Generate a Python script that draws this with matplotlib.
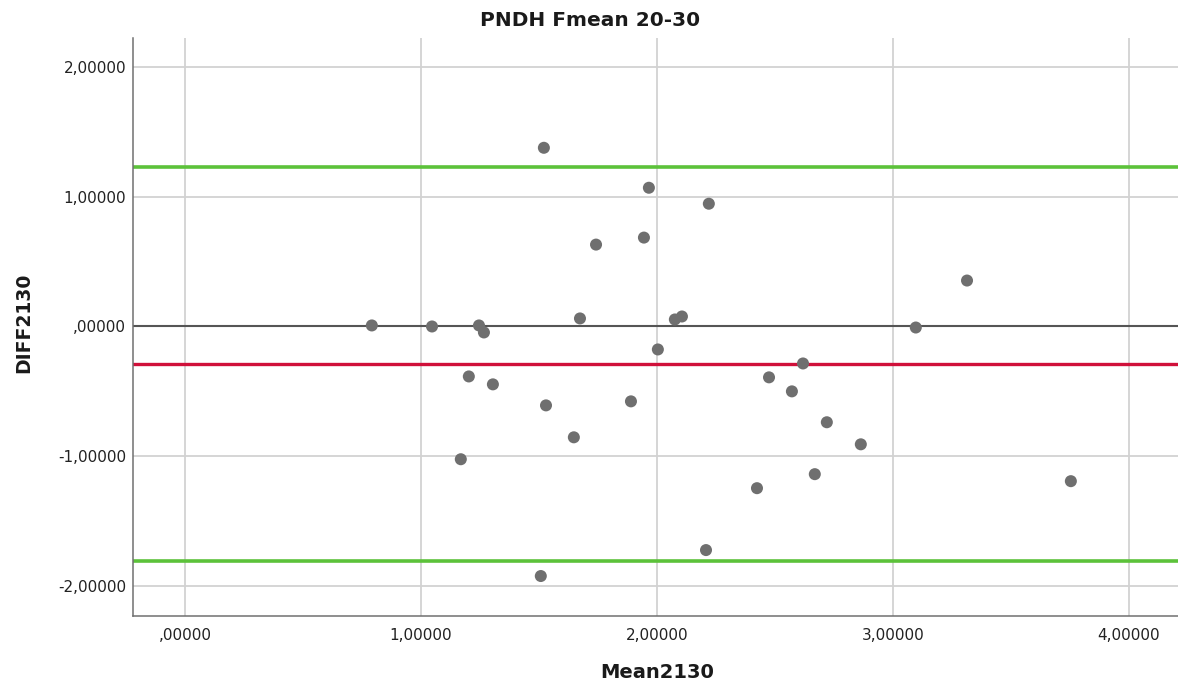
import matplotlib
matplotlib.use("Agg")
import matplotlib.pyplot as plt
from matplotlib.ticker import FuncFormatter

# Bland-Altman data: mean of the two measurements vs. their difference
mean2130 = [0.792, 1.047, 1.169, 1.203, 1.246, 1.267, 1.305, 1.521, 1.508, 1.530,
            1.648, 1.674, 1.742, 1.890, 1.945, 1.966, 2.004, 2.076, 2.106, 2.208,
            2.220, 2.424, 2.475, 2.572, 2.619, 2.669, 2.720, 2.864, 3.097, 3.314,
            3.754]
diff2130 = [0.008, 0.000, -1.023, -0.385, 0.008, -0.046, -0.446, 1.377, -1.923, -0.608,
            -0.854, 0.062, 0.631, -0.577, 0.685, 1.069, -0.177, 0.054, 0.077, -1.723,
            0.946, -1.246, -0.392, -0.500, -0.285, -1.138, -0.738, -0.908, -0.008, 0.354,
            -1.192]

bias = -0.289
upper_loa = 1.231
lower_loa = -1.808

x_ticks = [0, 1, 2, 3, 4]
y_ticks = [-2, -1, 0, 1, 2]


def comma_decimal(v, pos=None):
    s = "%.5f" % v
    if abs(v) < 1:
        s = s.replace("0.", ".", 1)
    return s.replace(".", ",")


fig = plt.figure(figsize=(11.78, 6.86), dpi=100)
ax = fig.add_axes([133 / 1178, 70 / 686, 1 - 133 / 1178, 578 / 686])

ax.set_xlim(-0.22, 4.208)
ax.set_ylim(-2.231, 2.223)
ax.set_xticks(x_ticks)
ax.set_yticks(y_ticks)
ax.xaxis.set_major_formatter(FuncFormatter(comma_decimal))
ax.yaxis.set_major_formatter(FuncFormatter(comma_decimal))

ax.grid(True, color="#d2d2d2", linewidth=1.3, zorder=0)
ax.set_axisbelow(True)

for s in ("top", "right"):
    ax.spines[s].set_visible(False)
for s in ("left", "bottom"):
    ax.spines[s].set_color("#707070")
    ax.spines[s].set_linewidth(1.1)

ax.tick_params(axis="both", length=0, labelsize=11, labelcolor="#222222")
ax.tick_params(axis="x", pad=9)
ax.tick_params(axis="y", pad=5)

ax.axhline(0, color="#555555", linewidth=1.5, zorder=2)
ax.axhline(bias, color="#d0103a", linewidth=2.4, zorder=2)
ax.axhline(upper_loa, color="#5cc23a", linewidth=2.6, zorder=2)
ax.axhline(lower_loa, color="#5cc23a", linewidth=2.6, zorder=2)

ax.scatter(mean2130, diff2130, s=75, color="#6f6f6f", edgecolors="none", zorder=3)

fig.text(590 / 1178, 1 - 20 / 686, "PNDH Fmean 20-30", ha="center", va="center",
         fontsize=14.5, fontweight="bold", color="#1a1a1a")
fig.text(657 / 1178, 1 - 672 / 686, "Mean2130", ha="center", va="center",
         fontsize=14, fontweight="bold", color="#1a1a1a")
fig.text(24 / 1178, 1 - 323 / 686, "DIFF2130", ha="center", va="center", rotation=90,
         fontsize=13.5, fontweight="bold", color="#1a1a1a")

fig.savefig("out.png", dpi=100)
